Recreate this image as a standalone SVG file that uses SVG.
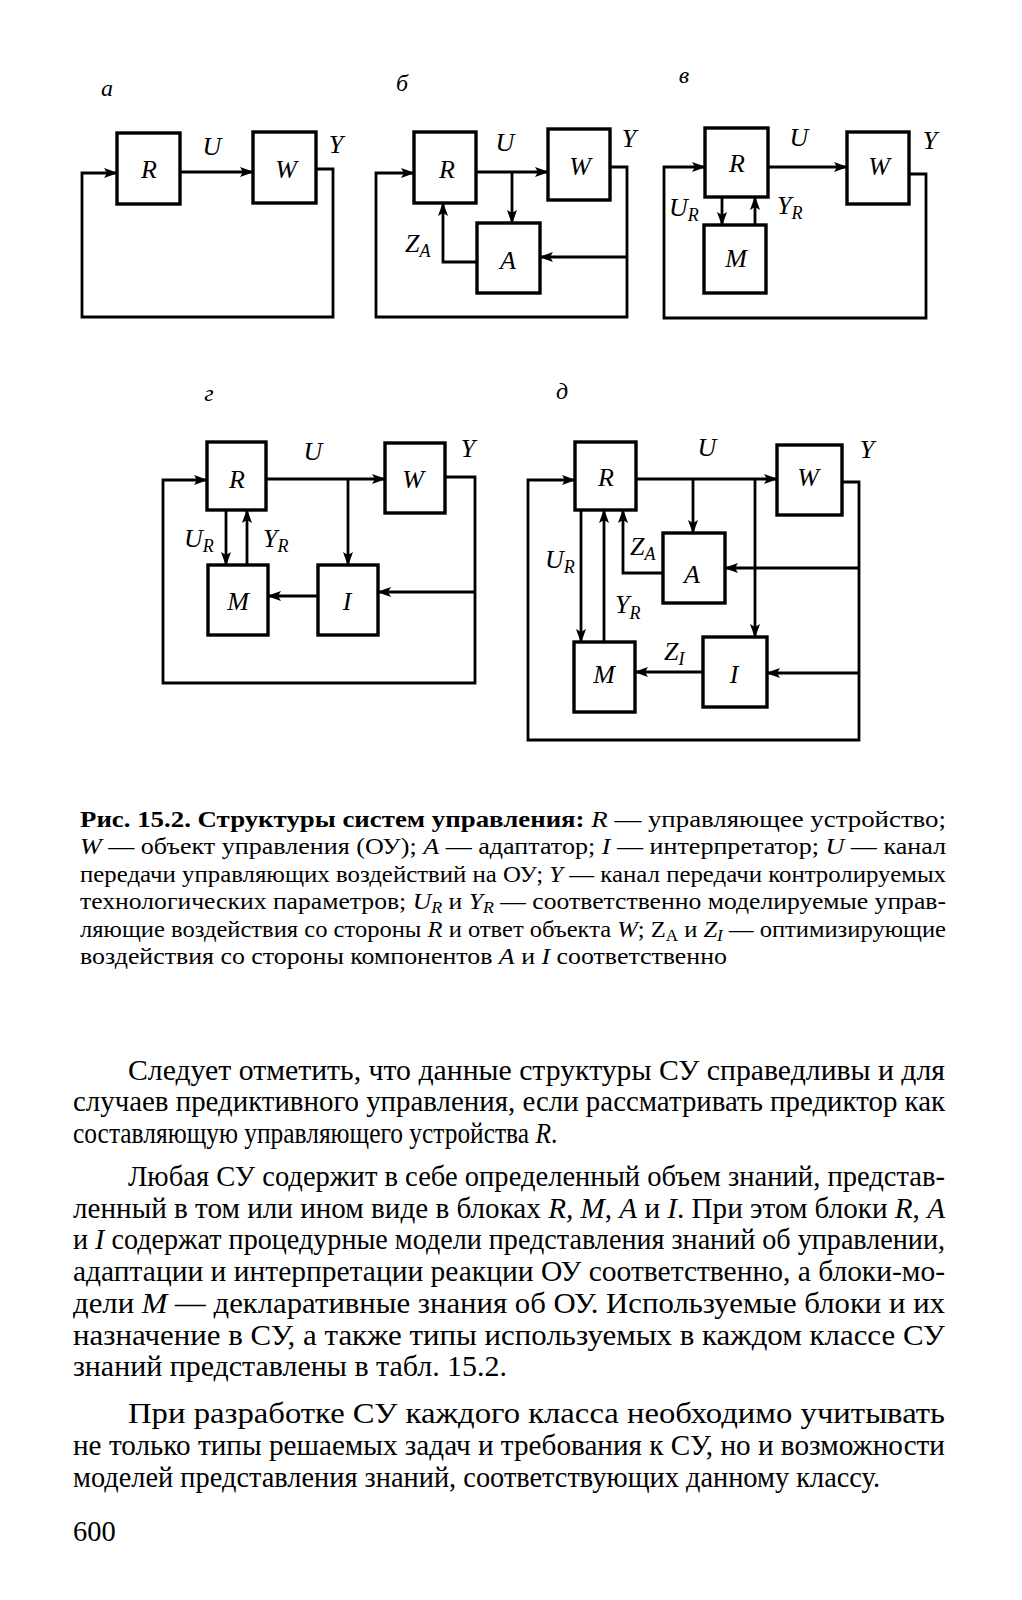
<svg xmlns="http://www.w3.org/2000/svg" width="1022" height="1600" viewBox="0 0 1022 1600">
<style>
.box{fill:none;stroke:#000;stroke-width:3.4}
.ln{fill:none;stroke:#000;stroke-width:2.8;marker-end:url(#ah)}
.lb{font-family:"Liberation Serif",serif;font-style:italic;font-size:26px;fill:#000}
.sl{font-size:24px}
.sb{font-size:18px}
.cap{font-family:"Liberation Serif",serif;font-size:23px;fill:#000}
.body{font-family:"Liberation Serif",serif;font-size:28.5px;fill:#000}
.b{font-weight:bold}
.i{font-style:italic}
</style>
<defs>
<marker id="ah" viewBox="0 0 14 10" refX="13" refY="5" markerWidth="14" markerHeight="10" orient="auto" markerUnits="userSpaceOnUse"><path d="M0,0 L14,5 L0,10 L3,5 Z" fill="#000"/></marker>
</defs>
<rect width="1022" height="1600" fill="#fff"/>

<!-- Diagram a -->
<g id="diag-a">
<text class="lb sl" x="107" y="96" text-anchor="middle">a</text>
<g id="a-R"><rect class="box" x="117" y="133" width="63" height="71"/><text class="lb" x="149" y="178" text-anchor="middle">R</text></g>
<g id="a-W"><rect class="box" x="253" y="132" width="63" height="71"/><text class="lb" x="286" y="178" text-anchor="middle">W</text></g>
<text class="lb" x="212" y="155" text-anchor="middle">U</text>
<text class="lb" x="336" y="153" text-anchor="middle">Y</text>
<g id="a-conn">
<path class="ln" d="M180,172 H253"/>
<path class="ln" d="M316,169 H333 V317 H82 V173 H117"/>
</g>
</g>

<!-- Diagram b -->
<g id="diag-b">
<text class="lb sl" x="402" y="91" text-anchor="middle">б</text>
<g id="b-R"><rect class="box" x="414" y="132" width="62" height="71"/><text class="lb" x="447" y="178" text-anchor="middle">R</text></g>
<g id="b-W"><rect class="box" x="548" y="129" width="62" height="71"/><text class="lb" x="580" y="175" text-anchor="middle">W</text></g>
<g id="b-A"><rect class="box" x="477" y="223" width="63" height="70"/><text class="lb" x="508" y="269" text-anchor="middle">A</text></g>
<text class="lb" x="505" y="151" text-anchor="middle">U</text>
<text class="lb" x="629" y="147" text-anchor="middle">Y</text>
<text class="lb" x="405" y="252">Z<tspan class="sb" dy="5">A</tspan></text>
<g id="b-conn">
<path class="ln" d="M476,172 H548"/>
<path class="ln" d="M512,172 V223"/>
<path class="ln" d="M610,167 H627 V317 H376 V173 H414"/>
<path class="ln" d="M627,257 H540"/>
<path class="ln" d="M477,262 H443 V203"/>
</g>
</g>

<!-- Diagram v -->
<g id="diag-v">
<text class="lb sl" x="684" y="83" text-anchor="middle">в</text>
<g id="v-R"><rect class="box" x="705" y="128" width="63" height="69"/><text class="lb" x="737" y="172" text-anchor="middle">R</text></g>
<g id="v-W"><rect class="box" x="847" y="132" width="62" height="72"/><text class="lb" x="879" y="175" text-anchor="middle">W</text></g>
<g id="v-M"><rect class="box" x="704" y="225" width="62" height="68"/><text class="lb" x="736" y="267" text-anchor="middle">M</text></g>
<text class="lb" x="799" y="146" text-anchor="middle">U</text>
<text class="lb" x="930" y="149" text-anchor="middle">Y</text>
<text class="lb" x="669" y="216">U<tspan class="sb" dy="5">R</tspan></text>
<text class="lb" x="777" y="214">Y<tspan class="sb" dy="5">R</tspan></text>
<g id="v-conn">
<path class="ln" d="M768,167 H847"/>
<path class="ln" d="M722,197 V225"/>
<path class="ln" d="M755,225 V197"/>
<path class="ln" d="M909,174 H926 V318 H664 V167 H705"/>
</g>
</g>

<!-- Diagram g -->
<g id="diag-g">
<text class="lb sl" x="209" y="401" text-anchor="middle">г</text>
<g id="g-R"><rect class="box" x="207" y="442" width="59" height="68"/><text class="lb" x="237" y="488" text-anchor="middle">R</text></g>
<g id="g-W"><rect class="box" x="385" y="443" width="60" height="70"/><text class="lb" x="413" y="488" text-anchor="middle">W</text></g>
<g id="g-M"><rect class="box" x="208" y="565" width="60" height="70"/><text class="lb" x="238" y="610" text-anchor="middle">M</text></g>
<g id="g-I"><rect class="box" x="318" y="565" width="60" height="70"/><text class="lb" x="347" y="610" text-anchor="middle">I</text></g>
<text class="lb" x="313" y="460" text-anchor="middle">U</text>
<text class="lb" x="468" y="457" text-anchor="middle">Y</text>
<text class="lb" x="184" y="547">U<tspan class="sb" dy="5">R</tspan></text>
<text class="lb" x="263" y="547">Y<tspan class="sb" dy="5">R</tspan></text>
<g id="g-conn">
<path class="ln" d="M266,479 H385"/>
<path class="ln" d="M348,479 V565"/>
<path class="ln" d="M445,477 H475 V683 H163 V480 H207"/>
<path class="ln" d="M475,592 H378"/>
<path class="ln" d="M318,596 H268"/>
<path class="ln" d="M226,510 V565"/>
<path class="ln" d="M247,565 V510"/>
</g>
</g>

<!-- Diagram d -->
<g id="diag-d">
<text class="lb sl" x="562" y="399" text-anchor="middle">д</text>
<g id="d-R"><rect class="box" x="575" y="442" width="61" height="68"/><text class="lb" x="606" y="486" text-anchor="middle">R</text></g>
<g id="d-W"><rect class="box" x="777" y="445" width="65" height="70"/><text class="lb" x="808" y="486" text-anchor="middle">W</text></g>
<g id="d-A"><rect class="box" x="663" y="533" width="62" height="70"/><text class="lb" x="692" y="583" text-anchor="middle">A</text></g>
<g id="d-I"><rect class="box" x="703" y="637" width="64" height="70"/><text class="lb" x="734" y="683" text-anchor="middle">I</text></g>
<g id="d-M"><rect class="box" x="574" y="642" width="61" height="70"/><text class="lb" x="604" y="683" text-anchor="middle">M</text></g>
<text class="lb" x="707" y="456" text-anchor="middle">U</text>
<text class="lb" x="867" y="458" text-anchor="middle">Y</text>
<text class="lb" x="630" y="555">Z<tspan class="sb" dy="5">A</tspan></text>
<text class="lb" x="545" y="568">U<tspan class="sb" dy="5">R</tspan></text>
<text class="lb" x="615" y="613">Y<tspan class="sb" dy="6">R</tspan></text>
<text class="lb" x="664" y="660">Z<tspan class="sb" dy="5">I</tspan></text>
<g id="d-conn">
<path class="ln" d="M636,479 H777"/>
<path class="ln" d="M693,479 V533"/>
<path class="ln" d="M755,479 V637"/>
<path class="ln" d="M842,482 H859 V740 H528 V480 H575"/>
<path class="ln" d="M859,568 H725"/>
<path class="ln" d="M859,673 H767"/>
<path class="ln" d="M663,573 H623 V510"/>
<path class="ln" d="M581,510 V642"/>
<path class="ln" d="M604,642 V510"/>
<path class="ln" d="M703,672 H635"/>
</g>
</g>

<!-- Caption -->
<g id="caption" class="cap">
<text x="80" y="827" textLength="866" lengthAdjust="spacingAndGlyphs"><tspan class="b">Рис. 15.2. Структуры систем управления:</tspan> <tspan class="i">R</tspan> — управляющее устройство;</text>
<text x="80" y="854" textLength="866" lengthAdjust="spacingAndGlyphs"><tspan class="i">W</tspan> — объект управления (ОУ); <tspan class="i">A</tspan> — адаптатор; <tspan class="i">I</tspan> — интерпретатор; <tspan class="i">U</tspan> — канал</text>
<text x="80" y="882" textLength="866" lengthAdjust="spacingAndGlyphs">передачи управляющих воздействий на ОУ; <tspan class="i">Y</tspan> — канал передачи контролируемых</text>
<text x="80" y="909" textLength="866" lengthAdjust="spacingAndGlyphs">технологических параметров; <tspan class="i">U</tspan><tspan class="i" font-size="16" dy="4">R</tspan><tspan dy="-4"> и </tspan><tspan class="i">Y</tspan><tspan class="i" font-size="16" dy="4">R</tspan><tspan dy="-4"> — соответственно моделируемые управ-</tspan></text>
<text x="80" y="937" textLength="866" lengthAdjust="spacingAndGlyphs">ляющие воздействия со стороны <tspan class="i">R</tspan> и ответ объекта <tspan class="i">W</tspan>; Z<tspan font-size="16" dy="4">A</tspan><tspan dy="-4"> и </tspan><tspan class="i">Z</tspan><tspan class="i" font-size="16" dy="4">I</tspan><tspan dy="-4"> — оптимизирующие</tspan></text>
<text x="80" y="964" textLength="647" lengthAdjust="spacingAndGlyphs">воздействия со стороны компонентов <tspan class="i">A</tspan> и <tspan class="i">I</tspan> соответственно</text>
</g>

<!-- Body text -->
<g id="body" class="body">
<text x="128" y="1080" textLength="817" lengthAdjust="spacingAndGlyphs">Следует отметить, что данные структуры СУ справедливы и для</text>
<text x="73" y="1111" textLength="872" lengthAdjust="spacingAndGlyphs">случаев предиктивного управления, если рассматривать предиктор как</text>
<text x="0" y="0" transform="matrix(0.892 0 0 1 73 1143)">составляющую управляющего устройства <tspan class="i">R</tspan>.</text>
<text x="128" y="1186" textLength="817" lengthAdjust="spacingAndGlyphs">Любая СУ содержит в себе определенный объем знаний, представ-</text>
<text x="73" y="1218" textLength="872" lengthAdjust="spacingAndGlyphs">ленный в том или ином виде в блоках <tspan class="i">R, M</tspan>, <tspan class="i">A</tspan> и <tspan class="i">I</tspan>. При этом блоки <tspan class="i">R</tspan>, <tspan class="i">A</tspan></text>
<text x="73" y="1249" textLength="872" lengthAdjust="spacingAndGlyphs">и <tspan class="i">I</tspan> содержат процедурные модели представления знаний об управлении,</text>
<text x="73" y="1281" textLength="872" lengthAdjust="spacingAndGlyphs">адаптации и интерпретации реакции ОУ соответственно, а блоки-мо-</text>
<text x="73" y="1313" textLength="872" lengthAdjust="spacingAndGlyphs">дели <tspan class="i">M</tspan> — декларативные знания об ОУ. Используемые блоки и их</text>
<text x="73" y="1345" textLength="872" lengthAdjust="spacingAndGlyphs">назначение в СУ, а также типы используемых в каждом классе СУ</text>
<text x="73" y="1376" textLength="434" lengthAdjust="spacingAndGlyphs">знаний представлены в табл. 15.2.</text>
<text x="128" y="1423" textLength="817" lengthAdjust="spacingAndGlyphs">При разработке СУ каждого класса необходимо учитывать</text>
<text x="73" y="1455" textLength="872" lengthAdjust="spacingAndGlyphs">не только типы решаемых задач и требования к СУ, но и возможности</text>
<text x="73" y="1487" textLength="807" lengthAdjust="spacingAndGlyphs">моделей представления знаний, соответствующих данному классу.</text>
<text x="73" y="1541">600</text>
</g>
</svg>
